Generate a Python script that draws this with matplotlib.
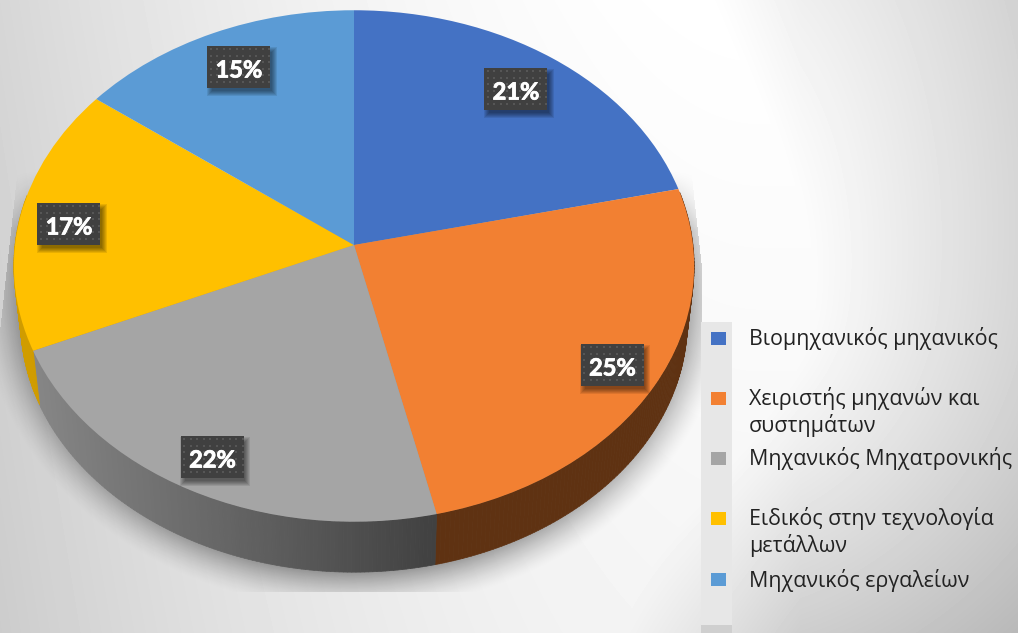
import numpy as np
import matplotlib
matplotlib.use('Agg')
import matplotlib.pyplot as plt
import matplotlib.patheffects as pe
from matplotlib.collections import PolyCollection
from matplotlib.colors import to_rgb
from matplotlib.patches import Rectangle
from matplotlib.transforms import Transform

plt.rcParams['font.family'] = ['Open Sans', 'DejaVu Sans']

# Data, shares, they round to the printed labels
names = ['Βιομηχανικός μηχανικός', 'Χειριστής μηχανών και\nσυστημάτων', 'Μηχανικός Μηχατρονικής',
         'Ειδικός στην τεχνολογία\nμετάλλων', 'Μηχανικός εργαλείων']
values = [21.4, 25.0, 22.0, 16.9, 14.7]
colors = ['#4472C4', '#F28032', '#A5A5A5', '#FFC000', '#5B9BD5']

# wall shading, (lit end, dark end) for each slice
wall_light = ['#2b4478', '#5f3212', '#868686', '#d09c00', '#37618a']
wall_dark = ['#2b4478', '#5f3212', '#404040', '#c89600', '#37618a']

label_pos = [(516, 89), (612.5, 365), (212.5, 457), (69, 224), (239, 67)]
legend_y = [338, 398, 458, 518, 579]

# pie geometry in pixels
CX, CY = 354, 245
RX, RY = 339, 254
TILT = 0.082
DEPTH = 56
SHRINK = 0.98


class Tilt(Transform):
    # unit pie plane to picture pixels, far side gets squeezed
    input_dims = 2
    output_dims = 2

    def transform_non_affine(self, xy):
        xy = np.asarray(xy, dtype=float)
        w = 1 + TILT * xy[:, 1]
        return np.column_stack([CX + RX * xy[:, 0] / w, CY - RY * xy[:, 1] / w])


def background():
    yy, xx = np.mgrid[0:633, 0:1018]
    # left side falls off slowly, right corner falls off fast
    left = 0.16 * (np.clip(760 - xx, 0, None) / 760.0) ** 2 + 0.04 * yy / 633.0
    dx = np.clip(xx - 680, 0, None)
    dy = np.where(yy < 300, (yy - 300) * 0.63, yy - 300.0) * np.clip((xx - 500) / 300.0, 0, 1)
    right = 0.0007 * np.clip(np.hypot(dx, dy) - 135, 0, None)
    return np.clip(1.0 - left - right, 0, 1)


def shadow():
    yy, xx = np.mgrid[0:633, 0:1018]
    d = np.hypot((xx - 354) / 345.0, (yy - 292) / 292.0)
    a = np.clip((1.09 - d) / 0.13, 0, 1) ** 1.5 * 0.36
    a = a * np.clip((yy - 170) / 60.0, 0, 1)
    # slanted cut of the shadow on both sides, plot area cut below
    a[xx > 693 + (yy - 190) * 0.11] = 0
    a[xx < 15 - (yy - 190) * 0.11] = 0
    a[(yy > 591) | (xx > 701)] = 0
    img = np.zeros((633, 1018, 4))
    img[..., 3] = a
    return img


fig = plt.figure(figsize=(10.18, 6.33), dpi=100)
ax = fig.add_axes([0, 0, 1, 1])

wedges, _ = ax.pie(values, colors=colors, startangle=90, counterclock=False, frame=True)
tilt = Tilt()
for w in wedges:
    w.set_transform(tilt + ax.transData)
    w.set_zorder(3)

ax.imshow(background(), cmap='gray', vmin=0, vmax=1, extent=(0, 1018, 633, 0), zorder=0, aspect='auto')
ax.imshow(shadow(), extent=(0, 1018, 633, 0), zorder=1, aspect='auto')

# side wall, only the near half can be seen
for i, w in enumerate(wedges):
    t = np.radians(np.linspace(w.theta1, w.theta2, 120))
    rim = tilt.transform_non_affine(np.column_stack([np.cos(t), np.sin(t)]))
    low = np.column_stack([CX + (rim[:, 0] - CX) * SHRINK, CY + DEPTH + (rim[:, 1] - CY) * SHRINK])
    keep = np.sin(t) < 0.2
    quads = []
    cols = []
    c1 = np.array(to_rgb(wall_light[i]))
    c2 = np.array(to_rgb(wall_dark[i]))
    for j in range(len(t) - 1):
        if not keep[j]:
            continue
        quads.append([rim[j], rim[j + 1], low[j + 1], low[j]])
        f = np.clip((rim[j, 0] - 33) / 405.0, 0, 1)
        cols.append(c1 + (c2 - c1) * f)
    if quads:
        ax.add_collection(PolyCollection(quads, facecolors=cols, edgecolors=cols, linewidths=0.5, zorder=2))

# percent boxes
for v, (x, y) in zip(values, label_pos):
    # soft shadow from stacked see through boxes
    for k in range(6):
        g = 3.5 - k
        ax.add_patch(Rectangle((x - 31.5 + 3 - g, y - 21 + 4 - g), 63 + 2 * g, 42 + 2 * g, facecolor='k',
                               edgecolor='none', alpha=0.09, zorder=4))
    ax.add_patch(Rectangle((x - 31.5, y - 21), 63, 42, facecolor='#404040', edgecolor='none', zorder=5))
    gx, gy = np.meshgrid(np.arange(x - 28, x + 31, 6.5), np.arange(y - 18, y + 21, 6.5))
    ax.scatter(gx.ravel(), gy.ravel(), s=2.2, marker='s', color='#565656', linewidths=0, zorder=5.5)
    ax.text(x, y + 1, f'{v:.0f}%', color='white', fontsize=17, fontweight='bold', family='Lato',
            ha='center', va='center_baseline', zorder=6,
            path_effects=[pe.withStroke(linewidth=0.6, foreground='white')])

# legend
ax.add_patch(Rectangle((701, 322), 31, 303, facecolor='#e7e7e7', edgecolor='none', zorder=1.5))
ax.add_patch(Rectangle((701, 625), 31, 8, facecolor='#cfcfcf', edgecolor='none', zorder=1.5))
for name, col, y in zip(names, colors, legend_y):
    ax.add_patch(Rectangle((711, y - 6.5), 15, 13, facecolor=col, edgecolor='none', zorder=4))
    ax.text(749, y - 10.5, name, color='#222222', fontsize=15.4, ha='left', va='top', linespacing=1.22, zorder=4)

ax.set_xlim(0, 1018)
ax.set_ylim(633, 0)
ax.axis('off')
fig.savefig('out.png', dpi=100)
